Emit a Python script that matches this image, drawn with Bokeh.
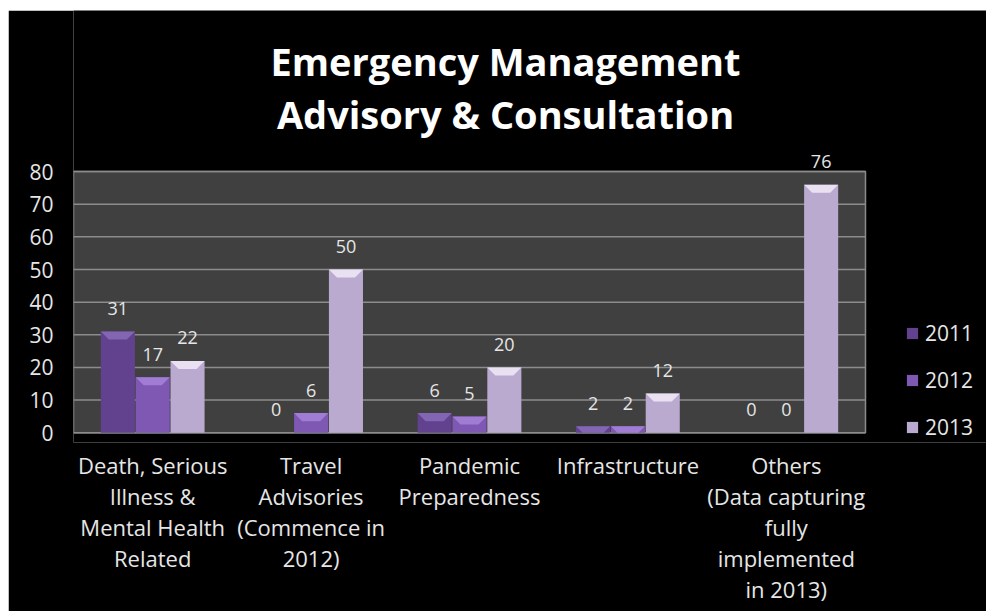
from bokeh.plotting import figure
from bokeh.models import (ColumnDataSource, Legend, LegendItem, Label, LabelSet,
                          FixedTicker, Spacer)
from bokeh.layouts import column, row
from bokeh.core.properties import value
from bokeh.embed import file_html
from bokeh.resources import INLINE

categories = [
    "Death, Serious\nIllness &\nMental Health\nRelated",
    "Travel\nAdvisories\n(Commence in\n2012)",
    "Pandemic\nPreparedness",
    "Infrastructure",
    "Others\n(Data capturing\nfully\nimplemented\nin 2013)",
]
years = ["2011", "2012", "2013"]
v2011 = [31, 0, 6, 2, 0]
v2012 = [17, 6, 5, 2, 0]
v2013 = [22, 50, 20, 12, 76]
y_ticks = [0, 10, 20, 30, 40, 50, 60, 70, 80]
colors = ["#62428e", "#7e58b3", "#baaad0"]
cap_colors = ["#8a6cba", "#a682d9", "#f1eaf8"]
title_lines = ["Emergency Management", "Advisory & Consultation"]

FONT = "Open Sans"
W, H = 978, 601
LEFT = 65
BOTTOM_PAD = 3
PLOT_W = 792
PLOT_H = 261
ZERO_Y = 422
BAR_W = 0.215
CAP_PX = 8

n = len(categories)
ymax = y_ticks[-1]
px_per_x = PLOT_W / n
px_per_y = PLOT_H / ymax
frame_bottom = ZERO_Y + BOTTOM_PAD * px_per_y
x_end = (W - LEFT) / px_per_x
y_end = -BOTTOM_PAD + frame_bottom / px_per_y
cap_h = CAP_PX / px_per_y
cap_in = CAP_PX / px_per_x

centers = [i + 0.5 for i in range(n)]
offsets = [-0.22, 0.0, 0.22]
series = [v2011, v2012, v2013]

p = figure(x_range=(0, x_end), y_range=(-BOTTOM_PAD, y_end),
           width=W, height=H, output_backend="svg", toolbar_location=None,
           min_border_left=LEFT, min_border_right=0, min_border_top=0,
           min_border_bottom=int(round(H - frame_bottom)))
p.title = None
p.background_fill_color = "black"
p.border_fill_color = "black"
p.outline_line_color = None
p.xgrid.grid_line_color = None
p.ygrid.grid_line_color = None

p.quad(left=[0], right=[n], bottom=[0], top=[ymax], fill_color="#404040",
       line_color="#8c8c8c", line_width=1.5)
p.segment(x0=[0] * len(y_ticks), x1=[n] * len(y_ticks), y0=y_ticks, y1=y_ticks,
          line_color="#8c8c8c", line_width=1.5)

renderers = []
for yr, off, c, cc, vals in zip(years, offsets, colors, cap_colors, series):
    xs = [cx + off for cx in centers]
    src = ColumnDataSource(dict(x=xs, top=vals, lab=[str(v) for v in vals]))
    r = p.vbar(x="x", top="top", width=BAR_W, source=src, fill_color=c, line_color=None)
    renderers.append(r)
    px_list, py_list = [], []
    for x, v in zip(xs, vals):
        if v <= 0:
            continue
        h = min(cap_h, v)
        inset = cap_in * h / cap_h
        px_list.append([x - BAR_W / 2, x + BAR_W / 2, x + BAR_W / 2 - inset, x - BAR_W / 2 + inset])
        py_list.append([v, v, v - h, v - h])
    p.patches(xs=px_list, ys=py_list, fill_color=cc, fill_alpha=0.85, line_color=None)
    p.add_layout(LabelSet(x="x", y="top", text="lab", source=src, y_offset=23,
                          text_align="center", text_baseline="middle",
                          text_color="#e6e6e6", text_font=value(FONT),
                          text_font_size=value("18px")))

for ax in (p.xaxis, p.yaxis):
    ax.axis_line_color = None
    ax.axis_line_alpha = 0
    ax.major_tick_line_color = None
    ax.minor_tick_line_color = None
    ax.major_label_text_color = "#e6e6e6"
    ax.major_label_text_font = FONT

p.yaxis.ticker = FixedTicker(ticks=y_ticks)
p.yaxis.major_label_text_font_size = "21px"
p.yaxis.major_label_standoff = 14

p.xaxis.ticker = FixedTicker(ticks=centers)
p.xaxis.major_label_overrides = {cx: cat for cx, cat in zip(centers, categories)}
p.xaxis.major_label_text_font_size = "22px"
p.xaxis.major_label_standoff = 1
p.xaxis.major_label_text_line_height = 1.04
p.xaxis.major_label_text_align = "center"

legend = Legend(items=[LegendItem(label=yr, renderers=[r]) for yr, r in zip(years, renderers)],
                location=(832, 1), background_fill_alpha=0, border_line_color=None,
                label_text_color="#e6e6e6", label_text_font=FONT, label_text_font_size="21px",
                glyph_width=14, glyph_height=14, label_height=20,
                spacing=19, padding=0, margin=0, label_standoff=6)
p.add_layout(legend)

frame_bottom_page = 10 + frame_bottom
for txt, page_y in zip(title_lines, [60, 113]):
    p.add_layout(Label(x=505 - 73, y=frame_bottom_page - page_y, x_units="screen",
                       y_units="screen", text=txt, text_align="center",
                       text_baseline="middle", text_color="white", text_font=FONT,
                       text_font_style="bold", text_font_size="38px"))

layout = column(Spacer(width=W + 8, height=10),
                row(Spacer(width=8, height=H), p, spacing=0), spacing=0)

open("out.html", "w").write(file_html(layout, INLINE))
